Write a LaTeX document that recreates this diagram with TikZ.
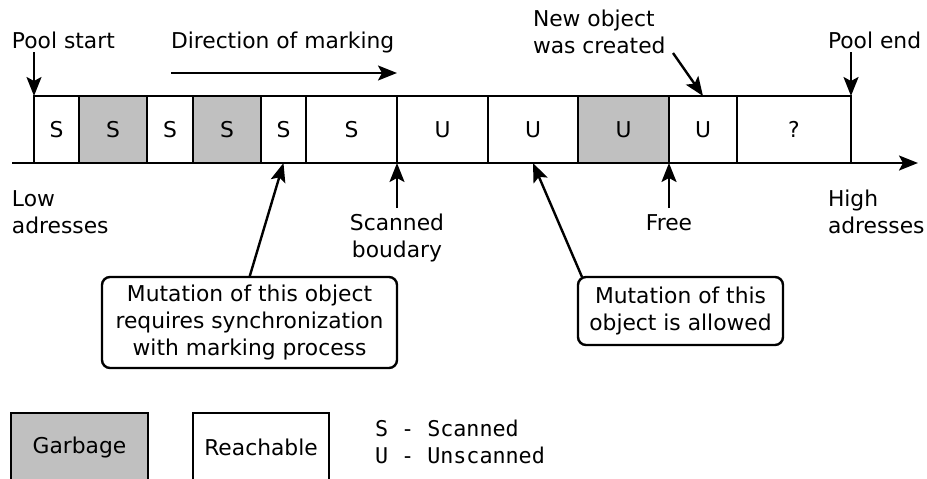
\documentclass[tikz,border=0pt]{standalone}
\usepackage{fontspec}
\setmainfont{DejaVu Sans}
\setmonofont{DejaVu Sans Mono}
\usetikzlibrary{arrows.meta,calc}
\definecolor{garb}{HTML}{C0C0C0}
\begin{document}
\begin{tikzpicture}[x=1pt,y=-1pt,line width=2.4pt,
  every node/.style={font=\fontsize{21.8}{27}\selectfont, inner sep=0pt, outer sep=0pt},
  cell/.style={draw, minimum height=67pt, anchor=center},
  arr/.style={-{Stealth[length=19pt,width=15pt,inset=4pt]}},
  lbl/.style={align=left},
  callout/.style={draw, rounded corners=8pt, align=center, fill=white},
  legendbox/.style={draw, minimum width=137pt, minimum height=68pt}]
\useasboundingbox (0,0) rectangle (927,479);
\fill[white] (0,0) rectangle (927,479);
% memory cells
\foreach \a/\b/\t/\f [count=\i] in {34/79/S/white,79/147/S/garb,147/193/S/white,193/261/S/garb,261/306/S/white,306/397/S/white,397/488/U/white,488/578/U/white,578/669/U/garb,669/737/U/white,737/851/?/white}
  \node[cell, fill=\f, minimum width={(\b-\a)*1pt}] (c\i) at ({(\a+\b)/2},129.5) {\t};
% address axis
\coordinate (axL) at (12,163);
\coordinate (axR) at (918,163);
\draw[arr] (axL) -- (axR);
% top labels
\node[anchor=base west] (pstart) at (12,48) {Pool start};
\coordinate (psA) at (34,52);
\draw[arr] (psA) -- (c1.north west);
\node[anchor=base west] (pend) at (828,48) {Pool end};
\coordinate (peA) at (851,52);
\draw[arr] (peA) -- (c11.north east);
\node[anchor=base west] (dir) at (171,48) {Direction of marking};
\coordinate (dirA) at (171,73);
\coordinate (dirB) at (397,73);
\draw[arr] (dirA) -- (dirB);
\node[lbl, anchor=west] (newobj) at (533,31.5) {New object\\was created};
\coordinate (noA) at (673,53);
\draw[arr] (noA) -- (c10.north);
% bottom labels
\node[lbl, anchor=west] (low) at (12,212.4) {Low\\adresses};
\node[lbl, anchor=west] (high) at (828,212) {High\\adresses};
\node[align=center] (scan) at (397,238) {Scanned\\boudary};
\coordinate (sbA) at (397,208);
\draw[arr] (sbA) -- (c6.south east);
\node[anchor=base] (free) at (669,230) {Free};
\coordinate (frA) at (669,208);
\draw[arr] (frA) -- (c9.south east);
% callouts
\node[callout, minimum width=295pt, minimum height=91pt] (b1) at (249.5,322.5) {Mutation of this object\\requires synchronization\\with marking process};
\draw[arr] (b1.north) -- (c5.south);
\node[callout, minimum width=205pt, minimum height=68pt] (b2) at (680.5,311) {Mutation of this\\object is allowed};
\draw[arr] ($(b2.north west)+(4,0)$) -- (c8.south);
% legend
\node[legendbox, fill=garb] (lg) at (79.5,447) {Garbage};
\node[legendbox, fill=white, minimum width=136pt] (lr) at (261,447) {Reachable};
\node[anchor=west, align=left, font=\ttfamily\fontsize{21.7}{26.5}\selectfont] (key) at (375,442) {S - Scanned\\U - Unscanned};
\end{tikzpicture}
\end{document}
